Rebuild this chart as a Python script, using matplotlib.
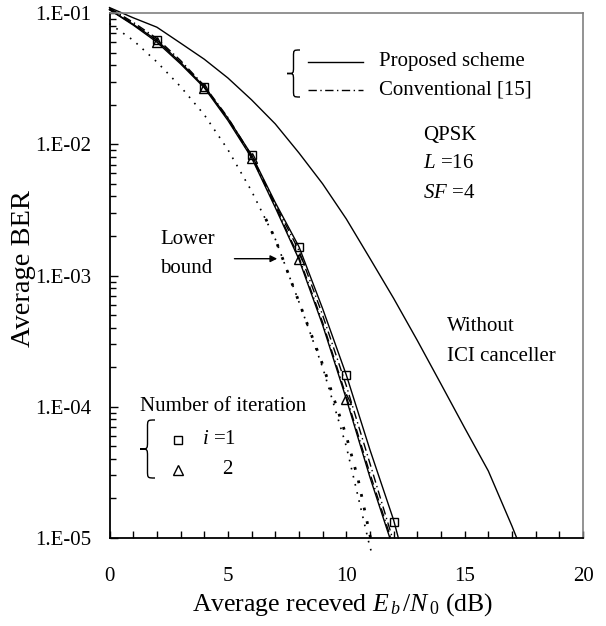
# -*- coding: utf-8 -*-
import numpy as np
import matplotlib
matplotlib.use('Agg')
import matplotlib.pyplot as plt
from matplotlib.ticker import LogLocator, MultipleLocator, FuncFormatter, NullFormatter
from matplotlib.lines import Line2D
from matplotlib.path import Path
from matplotlib.patches import PathPatch

plt.rcParams['font.family'] = 'Liberation Serif'
plt.rcParams['mathtext.fontset'] = 'custom'
plt.rcParams['mathtext.rm'] = 'Liberation Serif'
plt.rcParams['mathtext.it'] = 'Liberation Serif:italic'

# Eb/N0 (dB) and BER
snr_p1 = [0, 1, 2, 3, 4, 5, 6, 7, 8, 9, 10, 11, 12, 12.2]
ber_p1 = [1.06e-1, 8.2e-2, 6.2e-2, 4.2e-2, 2.75e-2, 1.58e-2, 8.3e-3, 3.6e-3,
          1.66e-3, 5.6e-4, 1.75e-4, 4.7e-5, 1.37e-5, 1.0e-5]
snr_p2 = [0, 1, 2, 3, 4, 5, 6, 7, 8, 9, 10, 11, 11.84]
ber_p2 = [1.06e-1, 8.1e-2, 6.0e-2, 4.1e-2, 2.7e-2, 1.52e-2, 7.9e-3, 3.3e-3,
          1.33e-3, 4.2e-4, 1.15e-4, 2.9e-5, 1.0e-5]
snr_c1 = [0, 1, 2, 3, 4, 5, 6, 7, 8, 9, 10, 11, 11.95]
ber_c1 = [1.09e-1, 8.5e-2, 6.4e-2, 4.35e-2, 2.8e-2, 1.6e-2, 8.2e-3, 3.5e-3,
          1.55e-3, 5.0e-4, 1.45e-4, 3.7e-5, 1.0e-5]
snr_c2 = [0, 1, 2, 3, 4, 5, 6, 7, 8, 9, 10, 11, 11.88]
ber_c2 = [1.08e-1, 8.3e-2, 6.2e-2, 4.2e-2, 2.75e-2, 1.55e-2, 8.0e-3, 3.4e-3,
          1.38e-3, 4.4e-4, 1.2e-4, 3.1e-5, 1.0e-5]
snr_noici = [0, 1, 2, 3, 4, 5, 6, 7, 8, 9, 10, 11, 12, 13, 14, 15, 16, 17, 17.2]
ber_noici = [1.1e-1, 9.2e-2, 7.8e-2, 5.9e-2, 4.45e-2, 3.2e-2, 2.18e-2, 1.43e-2,
             8.6e-3, 5.0e-3, 2.7e-3, 1.35e-3, 6.7e-4, 3.2e-4, 1.49e-4, 6.9e-5,
             3.24e-5, 1.23e-5, 1.0e-5]
snr_lb = [0, 1, 2, 3, 4, 5, 6, 7, 8, 9, 10, 11, 11.05]
ber_lb = [8.3e-2, 6.2e-2, 4.24e-2, 2.75e-2, 1.68e-2, 9.1e-3, 4.4e-3, 1.9e-3,
          6.3e-4, 2.0e-4, 5.0e-5, 8.5e-6, 8.0e-6]
snr_lb2 = [6.6, 7, 8, 9, 10, 10.5, 11, 11.1]
ber_lb2 = [2.7e-3, 1.9e-3, 6.3e-4, 2.1e-4, 6.0e-5, 2.8e-5, 1.05e-5, 8.7e-6]

mark_snr1 = [2, 4, 6, 8, 10, 12]
mark_ber1 = [6.2e-2, 2.75e-2, 8.3e-3, 1.66e-3, 1.75e-4, 1.33e-5]
mark_snr2 = [2, 4, 6, 8, 10]
mark_ber2 = [6.0e-2, 2.7e-2, 7.9e-3, 1.33e-3, 1.15e-4]

fs = 15
dashdot = (0, (6, 2.5, 1, 2.5))
W, H = 606, 626


def brace(fig, xl, xm, xr, yt, yb):
    # curly brace "{" given in pixel coords (y downwards)
    ym = (yt + yb) / 2
    r = xr - xm
    pts = [(xr, yt), (xm, yt), (xm, yt), (xm, yt + r),
           (xm, ym - r),
           (xm, ym), (xm, ym), (xl, ym),
           (xm, ym), (xm, ym), (xm, ym + r),
           (xm, yb - r),
           (xm, yb), (xm, yb), (xr, yb)]
    codes = [Path.MOVETO, Path.CURVE4, Path.CURVE4, Path.CURVE4, Path.LINETO,
             Path.CURVE4, Path.CURVE4, Path.CURVE4,
             Path.CURVE4, Path.CURVE4, Path.CURVE4, Path.LINETO,
             Path.CURVE4, Path.CURVE4, Path.CURVE4]
    pts = [(x / W, 1 - y / H) for x, y in pts]
    fig.patches.append(PathPatch(Path(pts, codes), transform=fig.transFigure,
                                 fill=False, lw=1.0, color='black'))


fig = plt.figure(figsize=(6.06, 6.26), dpi=100)
ax = fig.add_axes([0.1807, 0.1406, 0.7814, 0.8386])

ax.plot(snr_noici, ber_noici, color='black', lw=1.0, clip_on=False)
ax.plot(snr_lb, ber_lb, color='black', lw=1.2, ls=(0, (1, 4)), clip_on=False)
ax.plot(snr_lb2, ber_lb2, color='black', lw=2.0, ls=(0, (1, 4)), clip_on=False)
ax.plot(snr_c1, ber_c1, color='black', lw=1.0, ls=dashdot, clip_on=False)
ax.plot(snr_c2, ber_c2, color='black', lw=1.0, ls=dashdot, clip_on=False)
ax.plot(snr_p1, ber_p1, color='black', lw=1.0, clip_on=False)
ax.plot(snr_p2, ber_p2, color='black', lw=1.0, clip_on=False)
ax.plot(mark_snr1, mark_ber1, ls='none', marker='s', ms=6, mfc='none', mec='black', mew=1.0, clip_on=False)
ax.plot(mark_snr2, mark_ber2, ls='none', marker='^', ms=7, mfc='none', mec='black', mew=1.0, clip_on=False)

ax.set_yscale('log')
ax.set_xlim(0, 20)
ax.set_ylim(1e-5, 1e-1)
ax.xaxis.set_major_locator(MultipleLocator(5))
ax.xaxis.set_minor_locator(MultipleLocator(1))
ax.yaxis.set_major_locator(LogLocator(base=10, numticks=10))
ax.yaxis.set_minor_locator(LogLocator(base=10, subs=np.arange(2, 10), numticks=10))
ax.yaxis.set_minor_formatter(NullFormatter())
ax.yaxis.set_major_formatter(FuncFormatter(lambda v, p: '1.E-%02d' % round(-np.log10(v))))
ax.tick_params(axis='both', which='both', direction='in', top=False, right=False,
               labelsize=fs, width=1.0)
ax.tick_params(axis='y', which='major', length=6, pad=13)
ax.tick_params(axis='y', which='minor', length=4)
ax.tick_params(axis='x', which='both', length=5, pad=21)

for s in ['left', 'bottom']:
    ax.spines[s].set_linewidth(1.3)
for s in ['top', 'right']:
    ax.spines[s].set_color('#808080')
    ax.spines[s].set_linewidth(1.2)

fig.text(0.038, 1 - 269 / 626, 'Average BER', rotation=90, ha='center', va='center', fontsize=20.5)
fig.text(343 / 606, 1 - 605 / 626, r'Average receved $E_{\,b}\,/N_{\,0}$ (dB)',
         ha='center', va='center', fontsize=18.5)

# legend for line styles
brace(fig, 287, 293.5, 300, 50, 97)
ax.add_line(Line2D([0.419, 0.535], [0.907, 0.907], transform=ax.transAxes, color='black', lw=1.0))
ax.add_line(Line2D([0.419, 0.535], [0.853, 0.853], transform=ax.transAxes, color='black', lw=1.0, ls=dashdot))
ax.text(0.569, 0.907, 'Proposed scheme', transform=ax.transAxes, va='center', fontsize=fs)
ax.text(0.569, 0.853, 'Conventional [15]', transform=ax.transAxes, va='center', fontsize=fs)

ax.text(0.662, 0.766, 'QPSK', transform=ax.transAxes, va='center', fontsize=fs)
ax.text(0.662, 0.714, r'$L$ =16', transform=ax.transAxes, va='center', fontsize=fs)
ax.text(0.662, 0.657, r'$SF$ =4', transform=ax.transAxes, va='center', fontsize=fs)

ax.text(0.713, 0.402, 'Without', transform=ax.transAxes, va='center', fontsize=fs)
ax.text(0.713, 0.345, 'ICI canceller', transform=ax.transAxes, va='center', fontsize=fs)

ax.text(0.107, 0.568, 'Lower', transform=ax.transAxes, va='center', fontsize=fs)
ax.text(0.107, 0.514, 'bound', transform=ax.transAxes, va='center', fontsize=fs)
ax.annotate('', xy=(0.36, 0.532), xytext=(0.258, 0.532), xycoords='axes fraction',
            arrowprops=dict(arrowstyle='-|>', color='black', lw=1.0, mutation_scale=10))

# legend for iterations
ax.text(0.064, 0.25, 'Number of iteration', transform=ax.transAxes, va='center', fontsize=fs)
brace(fig, 140, 147.5, 155, 420, 478)
ax.plot([0.145], [0.187], transform=ax.transAxes, marker='s', ms=6, mfc='none', mec='black', mew=1.0)
ax.plot([0.145], [0.130], transform=ax.transAxes, marker='^', ms=7, mfc='none', mec='black', mew=1.0)
ax.text(0.195, 0.187, r'$i$ =1', transform=ax.transAxes, va='center', fontsize=fs)
ax.text(0.238, 0.130, '2', transform=ax.transAxes, va='center', fontsize=fs)

fig.savefig('out.png', dpi=100)
